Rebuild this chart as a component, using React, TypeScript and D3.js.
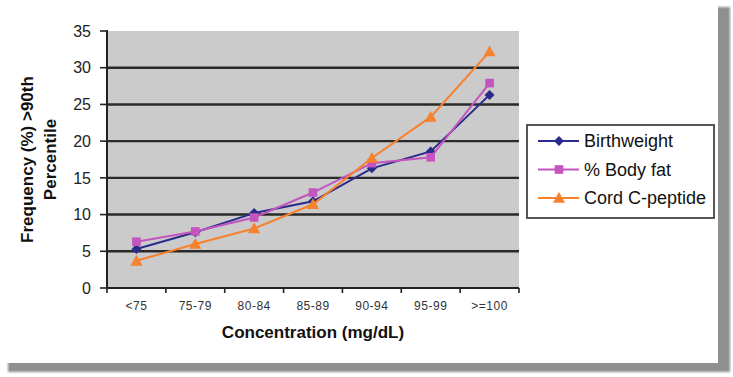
import React from "react";
import * as d3 from "d3";

const categories = ["<75", "75-79", "80-84", "85-89", "90-94", "95-99", ">=100"];
const birthweight = [5.3, 7.6, 10.2, 11.8, 16.3, 18.6, 26.3];
const bodyFat = [6.3, 7.7, 9.6, 13.0, 17.0, 17.8, 27.9];
const cordCPeptide = [3.7, 6.0, 8.1, 11.4, 17.7, 23.3, 32.2];
const yTicks = [0, 5, 10, 15, 20, 25, 30, 35];
const seriesNames = ["Birthweight", "% Body fat", "Cord C-peptide"];

const W = 733;
const H = 377;
const plot = { left: 107, right: 519, top: 31, bottom: 288 };

const series = [
  { name: seriesNames[0], values: birthweight, color: "#2B2B8C", marker: "diamond" },
  { name: seriesNames[1], values: bodyFat, color: "#C455BE", marker: "square" },
  { name: seriesNames[2], values: cordCPeptide, color: "#F7812C", marker: "triangle" },
];

function Marker({ type, x, y, color }: { type: string; x: number; y: number; color: string }) {
  if (type === "diamond") {
    const s = 5;
    return <path d={`M${x},${y - s}L${x + s},${y}L${x},${y + s}L${x - s},${y}Z`} fill={color} />;
  }
  if (type === "square") {
    const s = 4.3;
    return <rect x={x - s} y={y - s} width={2 * s} height={2 * s} fill={color} />;
  }
  const s = 6;
  return <path d={`M${x},${y - s}L${x + s},${y + s * 0.8}L${x - s},${y + s * 0.8}Z`} fill={color} />;
}

export default function App() {
  const x = d3.scaleBand<string>().domain(categories).range([plot.left, plot.right]).padding(0);
  const y = d3.scaleLinear().domain([0, 35]).range([plot.bottom, plot.top]);
  const cx = (c: string) => (x(c) as number) + x.bandwidth() / 2;
  const line = d3
    .line<number>()
    .x((_, i) => cx(categories[i]))
    .y((v) => y(v));
  const font = "Arial, 'Liberation Sans', Helvetica, sans-serif";
  const boundaries = categories.map((c) => x(c) as number).concat([plot.right]);
  const midY = (plot.top + plot.bottom) / 2;

  return (
    <svg width={W} height={H} style={{ position: "absolute", left: 0, top: 0 }} fontFamily={font}>
      <defs>
        <filter id="blur" x="-5%" y="-5%" width="110%" height="110%">
          <feGaussianBlur stdDeviation="1.3" />
        </filter>
      </defs>
      <rect x={0} y={0} width={W} height={H} fill="#ffffff" />
      <rect x={8} y={7} width={722} height={365} fill="#8f8f8f" filter="url(#blur)" />
      <rect x={0} y={0} width={718} height={363} fill="#ffffff" />

      {/* plot area */}
      <rect x={plot.left} y={plot.top} width={plot.right - plot.left} height={plot.bottom - plot.top} fill="#CBCBCB" />
      {yTicks.filter((t) => t > 0 && t < 35).map((t) => (
        <line key={t} x1={plot.left} x2={plot.right} y1={y(t)} y2={y(t)} stroke="#2a2a2a" strokeWidth={2.4} />
      ))}

      {/* y axis */}
      <line x1={plot.left} x2={plot.left} y1={plot.top - 1} y2={plot.bottom} stroke="#222" strokeWidth={2} />
      {yTicks.map((t) => (
        <g key={t}>
          <line x1={plot.left - 7} x2={plot.left} y1={y(t)} y2={y(t)} stroke="#222" strokeWidth={1.6} />
          <text x={91} y={y(t)} dy="0.36em" textAnchor="end" fontSize={16} fill="#222">
            {t}
          </text>
        </g>
      ))}

      {/* x axis */}
      <line x1={plot.left} x2={plot.right} y1={plot.bottom} y2={plot.bottom} stroke="#222" strokeWidth={2} />
      {boundaries.map((b, i) => (
        <line key={i} x1={b} x2={b} y1={plot.bottom} y2={plot.bottom + 5} stroke="#222" strokeWidth={1.6} />
      ))}
      {categories.map((c) => (
        <text key={c} x={cx(c)} y={306} dy="0.35em" textAnchor="middle" fontSize={12} letterSpacing={0.5} fill="#333">
          {c}
        </text>
      ))}

      {/* series */}
      {series.map((s) => (
        <g key={s.name}>
          <path d={line(s.values) || ""} fill="none" stroke={s.color} strokeWidth={2} />
          {s.values.map((v, i) => (
            <Marker key={i} type={s.marker} x={cx(categories[i])} y={y(v)} color={s.color} />
          ))}
        </g>
      ))}

      {/* axis titles */}
      <text x={(plot.left + plot.right) / 2} y={332} dy="0.35em" textAnchor="middle" fontSize={17} fontWeight="bold" fill="#111">
        Concentration (mg/dL)
      </text>
      <g transform={`translate(27,${midY}) rotate(-90)`}>
        <text x={0} y={0} dy="0.35em" textAnchor="middle" fontSize={17} fontWeight="bold" fill="#111">
          Frequency (%) &gt;90th
        </text>
        <text x={0} y={23} dy="0.35em" textAnchor="middle" fontSize={17} fontWeight="bold" fill="#111">
          Percentile
        </text>
      </g>

      {/* legend */}
      <rect x={527} y={125} width={187} height={93} fill="#ffffff" stroke="#444" strokeWidth={1.8} />
      {series.map((s, i) => {
        const ly = 141 + i * 28.5;
        return (
          <g key={s.name}>
            <line x1={538} x2={579} y1={ly} y2={ly} stroke={s.color} strokeWidth={2} />
            <Marker type={s.marker} x={559} y={ly} color={s.color} />
            <text x={584} y={ly} dy="0.35em" fontSize={18} fill="#111">
              {s.name}
            </text>
          </g>
        );
      })}
    </svg>
  );
}
